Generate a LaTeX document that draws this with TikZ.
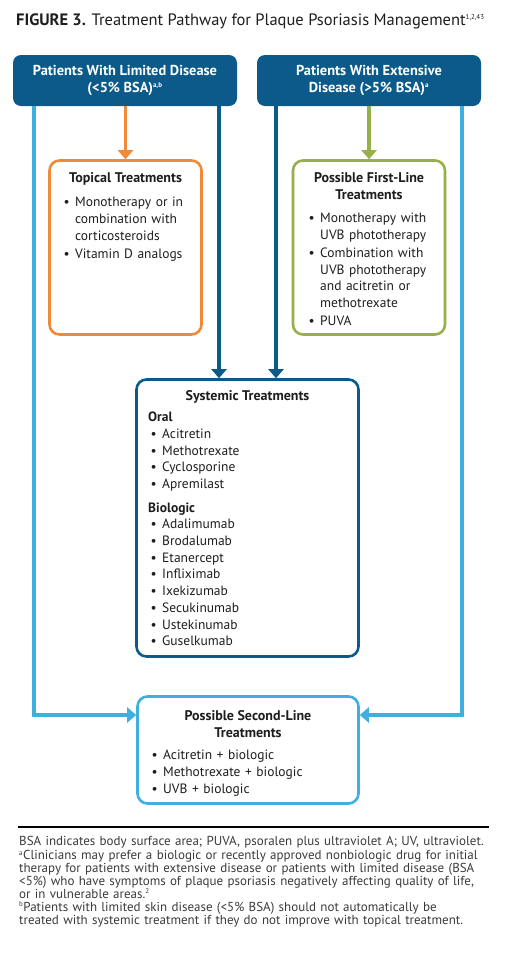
\documentclass[tikz,border=0pt]{standalone}
\usepackage{fontspec}
\setmainfont{PT Sans}
\usetikzlibrary{arrows.meta}
\definecolor{dblue}{HTML}{0B5A8A}
\definecolor{lblue}{HTML}{3FAEE0}
\definecolor{orng}{HTML}{EE8A3A}
\definecolor{grn}{HTML}{97B04B}
\definecolor{txt}{HTML}{1E1E1E}
\definecolor{ftxt}{HTML}{3A3A3A}
\newcommand\bodyfont{\fontsize{13.5}{16.7}\selectfont}
\newcommand\ttlfont{\fontsize{14}{16.7}\selectfont\bfseries}
\newcommand\hdrfont{\fontsize{14.4}{17}\selectfont\bfseries}
\newcommand\bl[1]{\par\noindent\makebox[14pt][l]{\hspace{2.5pt}\textbullet}\begin{tabular}[t]{@{}l@{}}#1\end{tabular}}
\newcommand\sps[1]{\textsuperscript{\scriptsize #1}}
\tikzset{
  hdr/.style={fill=dblue, draw=none, rounded corners=8pt, minimum width=224pt, minimum height=51pt,
    inner sep=0pt, text=white, font=\hdrfont, align=center},
  tbox/.style={draw=#1, line width=2.6pt, rounded corners=10pt, inner sep=0pt, fill=white},
  ttl/.style={anchor=north, inner sep=0pt, align=center, font=\ttlfont, text=txt},
  lst/.style={anchor=north west, inner sep=0pt, text width=#1, align=left, font=\bodyfont, text=txt},
  arr/.style={line width=3.2pt, draw=#1, -{Triangle[width=15pt,length=9pt,fill=#1]}},
}
\begin{document}
\begin{tikzpicture}[x=1pt,y=-1pt]
\useasboundingbox (0,0) rectangle (510,956);
% title
\node[anchor=base west, inner sep=0pt, font=\fontsize{16.5}{19}\selectfont, text=txt] (title) at (16,25.5)
  {\textbf{FIGURE 3.} Treatment Pathway for Plaque Psoriasis Management\sps{1,2,43}};
% header boxes
\node[hdr] (hl) at (125,80.5) {Patients With Limited Disease\\(<5\% BSA)\sps{a,b}};
\node[hdr] (hr) at (369,80.5) {Patients With Extensive\\Disease (>5\% BSA)\sps{a}};
% boxes
\node[tbox=orng, minimum width=152pt, minimum height=174pt] (top) at (125.5,247.5) {};
\node[tbox=grn, minimum width=152pt, minimum height=174pt] (fl) at (369,247.5) {};
\node[tbox=dblue, minimum width=222pt, minimum height=277pt] (sys) at (247.5,518) {};
\node[tbox=lblue, minimum width=221pt, minimum height=107pt] (sec) at (248,750) {};
% connectors
\draw[arr=orng] (hl.south -| top.north) -- (top.north);
\draw[arr=grn] (hr.south -| fl.north) -- (fl.north);
\draw[arr=dblue] ([xshift=94pt]hl.south) -- ([xshift=94pt]hl.south |- sys.north);
\draw[arr=dblue] ([xshift=-93pt]hr.south) -- ([xshift=-93pt]hr.south |- sys.north);
\draw[arr=lblue] ([xshift=-91pt]hl.south) |- ([yshift=35pt]sec.west);
\draw[arr=lblue] ([xshift=93pt]hr.south) |- ([yshift=35pt]sec.east);
% topical
\node[ttl] (topt) at (125.5,170.8) {\strut Topical Treatments};
\node[lst=150pt] (topl) at (61,190) {\bl{Monotherapy or in\\combination with\\corticosteroids}\bl{Vitamin D analogs}};
% first line
\node[ttl] (flt) at (369,170.8) {\strut Possible First-Line\\Treatments};
\node[lst=150pt] (fll) at (306,206) {\bl{Monotherapy with\\UVB phototherapy}\bl{Combination with\\UVB phototherapy\\and acitretin or\\methotrexate}\bl{PUVA}};
% systemic
\node[ttl] (syst) at (247.5,388.8) {\strut Systemic Treatments};
\node[lst=200pt] (sysl) at (148,409.8) {\noindent\strut\textbf{Oral}\bl{Acitretin}\bl{Methotrexate}\bl{Cyclosporine}\bl{Apremilast}\par\vspace{7pt}\noindent\strut\textbf{Biologic}\bl{Adalimumab}\bl{Brodalumab}\bl{Etanercept}\bl{Infliximab}\bl{Ixekizumab}\bl{Secukinumab}\bl{Ustekinumab}\bl{Guselkumab}};
% second line
\node[ttl] (sect) at (248,708.8) {\strut Possible Second-Line\\Treatments};
\node[lst=200pt] (secl) at (149,743) {\bl{Acitretin + biologic}\bl{Methotrexate + biologic}\bl{UVB + biologic}};
% rule and footnotes
\coordinate (r1) at (18,827);
\coordinate (r2) at (489,827);
\draw[line width=2pt, black] (r1) -- (r2);
\node[anchor=north west, inner sep=0pt, text width=490pt, align=left, font=\fontsize{13}{12.9}\selectfont, text=ftxt] (fn) at (19,836)
{\strut BSA indicates body surface area; PUVA, psoralen plus ultraviolet A; UV, ultraviolet.\\
\sps{a}Clinicians may prefer a biologic or recently approved nonbiologic drug for initial\\
therapy for patients with extensive disease or patients with limited disease (BSA\\
<5\%) who have symptoms of plaque psoriasis negatively affecting quality of life,\\
or in vulnerable areas.\sps{2}\\
\sps{b}Patients with limited skin disease (<5\% BSA) should not automatically be\\
treated with systemic treatment if they do not improve with topical treatment.};
\end{tikzpicture}
\end{document}
